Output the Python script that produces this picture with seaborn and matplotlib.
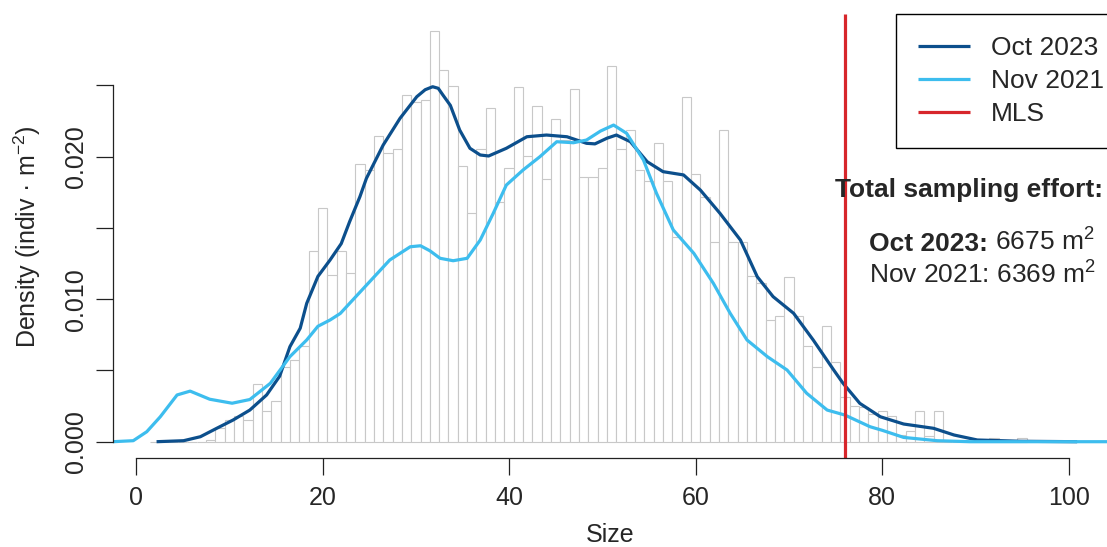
import numpy as np
import pandas as pd
import matplotlib
matplotlib.use("Agg")
import matplotlib.pyplot as plt
import seaborn as sns

# ---------------- data ----------------
hist_x = list(range(2, 96))
hist_h = [0, 0, 0, 0, 0, 0, 0.14, 0.97, 1.55, 1.80, 1.52, 4.05, 2.13, 2.87, 5.26, 5.73, 6.72,
          13.38, 16.40, 11.70, 13.38, 11.84, 19.50, 19.06, 21.47, 20.28, 20.51, 24.33, 23.86,
          24.00, 28.82, 26.08, 24.93, 19.35, 16.07, 20.54, 23.40, 16.80, 19.23, 24.91, 20.07,
          23.56, 18.43, 22.68, 21.20, 24.72, 18.60, 18.60, 19.23, 26.39, 20.51, 21.85, 19.06,
          18.30, 20.98, 18.30, 14.39, 24.16, 18.76, 17.19, 13.99, 21.88, 14.04, 14.00, 11.65,
          11.13, 8.56, 8.82, 11.54, 8.82, 6.75, 5.24, 8.10, 5.56, 3.15, 2.52, 2.40, 1.95, 2.12,
          1.82, 0.50, 0.75, 2.13, 0.40, 2.13, 0, 0, 0, 0, 0, 0.28, 0, 0, 0.28]
hist_h = [h / 1000 for h in hist_h]

oct_x = [2.2, 5.1, 6.9, 8.65, 10.4, 12.2, 14.0, 15.4, 16.5, 17.6, 18.3, 19.5, 20.8, 22.0, 22.9,
         24.0, 24.7, 26.5, 28.3, 30.1, 31.0, 31.8, 32.4, 32.9, 33.7, 34.7, 35.8, 36.9, 37.8,
         39.7, 41.9, 44.0, 46.2, 48.3, 49.2, 50.5, 51.5, 53.0, 54.8, 56.5, 58.7, 60.5, 62.6,
         64.8, 66.6, 68.3, 70.5, 72.6, 74.8, 75.8, 77.6, 79.8, 82.3, 85.5, 87.7, 90.2, 94.8,
         100.9]
oct_y = [0, 0.07, 0.35, 0.94, 1.52, 2.22, 3.28, 4.60, 6.67, 7.96, 9.71, 11.60, 12.75, 13.90,
         15.44, 17.19, 18.48, 20.82, 22.69, 24.21, 24.70, 24.91, 24.80, 24.33, 23.60, 21.87,
         20.59, 20.12, 20.05, 20.59, 21.40, 21.52, 21.40, 20.94, 20.90, 21.30, 21.52, 21.05,
         19.65, 18.95, 18.72, 17.66, 16.03, 14.15, 11.58, 10.18, 9.01, 7.14, 5.03, 4.10, 2.69,
         1.75, 1.24, 0.94, 0.47, 0.12, 0.03, 0]
oct_y = [v / 1000 for v in oct_y]

nov_x = [-2.5, -0.3, 1.15, 2.6, 4.4, 5.8, 7.9, 10.3, 12.2, 14.4, 16.5, 18.3, 19.5, 20.8, 21.9,
         24.3, 27.2, 29.4, 30.5, 31.5, 32.6, 34.0, 35.5, 36.9, 38.3, 39.7, 41.5, 43.3, 45.1,
         46.9, 48.3, 49.8, 51.2, 52.6, 54.4, 55.8, 57.6, 59.8, 61.9, 63.7, 65.5, 67.7, 69.8,
         71.9, 74.1, 76.0, 78.7, 80.0, 82.3, 85.9, 89.4, 104.1]
nov_y = [0, 0.07, 0.70, 1.75, 3.28, 3.55, 2.98, 2.70, 2.96, 4.10, 5.97, 7.14, 8.10, 8.54,
         9.00, 10.70, 12.75, 13.68, 13.75, 13.40, 12.87, 12.70, 12.87, 14.15, 16.03, 18.01,
         19.07, 20.00, 21.05, 20.98, 21.17, 21.80, 22.22, 21.64, 19.77, 17.43, 14.86, 13.22,
         11.11, 9.01, 7.14, 5.96, 5.03, 3.40, 2.22, 1.87, 1.05, 0.80, 0.30, 0.07, 0, 0]
nov_y = [v / 1000 for v in nov_y]

mls = 76
x_ticks = [0, 20, 40, 60, 80, 100]
y_ticks = [0, 0.005, 0.010, 0.015, 0.020, 0.025]
y_tick_labels = ["0.000", "", "0.010", "", "0.020", ""]

# ---------------- style ----------------
sns.set_style("ticks")
plt.rcParams["font.family"] = ["Liberation Sans", "DejaVu Sans"]
plt.rcParams["mathtext.fontset"] = "custom"
plt.rcParams["mathtext.rm"] = "Liberation Sans"
plt.rcParams["mathtext.bf"] = "Liberation Sans:bold"
plt.rcParams["mathtext.it"] = "Liberation Sans:italic"

DARK = "#0c4f8c"
LIGHT = "#3dbdee"
RED = "#d7262b"
W, H = 1107, 547

fig = plt.figure(figsize=(W / 100, H / 100), dpi=100)
ax = fig.add_axes([113 / W, 1 - 458.3 / H, (W - 113) / W, (458.3 - 14) / H])

hist_df = pd.DataFrame({"size": hist_x, "dens": hist_h})
sns.histplot(data=hist_df, x="size", weights="dens", discrete=True, stat="count",
             color="white", edgecolor="#c8c8c8", linewidth=0.8, alpha=1, ax=ax)

sns.lineplot(x=oct_x, y=oct_y, color=DARK, linewidth=2.3, ax=ax, label="Oct 2023",
             sort=False, estimator=None)
sns.lineplot(x=nov_x, y=nov_y, color=LIGHT, linewidth=2.3, ax=ax, label="Nov 2021",
             sort=False, estimator=None)
ax.axvline(mls, color=RED, linewidth=2.3, label="MLS")
for ln in ax.get_lines():
    ln.set_solid_joinstyle("round")
    ln.set_solid_capstyle("butt")

ax.set_xlim(-2.47, 104.1)
ax.set_ylim(-0.001165, 0.030014)

for s in ["top", "right"]:
    ax.spines[s].set_visible(False)
ax.spines["left"].set_bounds(0, 0.025)
ax.spines["bottom"].set_bounds(0, 100)
for s in ["left", "bottom"]:
    ax.spines[s].set_color("#222222")
    ax.spines[s].set_linewidth(0.9)

ax.set_xticks(x_ticks)
ax.set_xticklabels([str(t) for t in x_ticks])
ax.set_yticks(y_ticks)
ax.set_yticklabels(y_tick_labels, rotation=90, va="center")
ax.tick_params(axis="both", direction="out", length=12, width=0.9, color="#222222",
               labelsize=18, pad=8, bottom=True, left=True)
ax.tick_params(axis="y", pad=6)

ax.set_xlabel("Size", fontsize=18, labelpad=9)
ax.set_ylabel("Density (indiv · m$^{-2}$)", fontsize=18)
ax.yaxis.set_label_coords((43 - 113) / (W - 113), 0.5)

handles, labels = ax.get_legend_handles_labels()
leg = ax.legend(handles, labels, loc="upper left",
                bbox_to_anchor=(896 / W, 1 - 14 / H), bbox_transform=fig.transFigure,
                fontsize=19, frameon=True, fancybox=False, framealpha=1,
                edgecolor="black", borderpad=0.85, labelspacing=0.33,
                handlelength=1.95, handletextpad=0.8, borderaxespad=0)
leg.get_frame().set_linewidth(1.0)

fig.text(1103 / W, 1 - 197 / H, "Total sampling effort:", fontsize=19, fontweight="bold",
         ha="right", va="baseline")
t_bold = fig.text(869 / W, 1 - 250.7 / H, "Oct 2023:", fontsize=19, fontweight="bold",
                  ha="left", va="baseline")
fig.canvas.draw()
bb = t_bold.get_window_extent(renderer=fig.canvas.get_renderer())
fig.text(bb.x1 / W, 1 - 250.7 / H, " 6675 m$^{2}$", fontsize=19, ha="left", va="baseline")
fig.text(869 / W, 1 - 284 / H, "Nov 2021: 6369 m$^{2}$", fontsize=19,
         ha="left", va="baseline")

fig.savefig("out.png", dpi=100)
